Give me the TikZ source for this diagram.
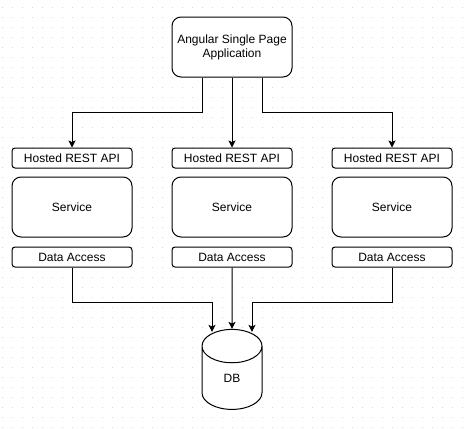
\documentclass[tikz,border=0pt]{standalone}
\usepackage{fontspec}
\setmainfont{Liberation Sans}
\usetikzlibrary{arrows.meta, positioning, shapes.geometric}

\begin{document}
\begin{tikzpicture}[
    x=1pt, y=-1pt,
    font=\fontsize{12}{14}\selectfont,
    appbox/.style={
        rectangle,
        rounded corners=9pt,
        draw=black,
        fill=white,
        minimum width=120pt,
        minimum height=60pt,
        line width=1pt,
        inner sep=0pt,
        align=center
    },
    servicebox/.style={
        appbox
    },
    layerbox/.style={
        rectangle,
        rounded corners=3pt,
        draw=black,
        fill=white,
        minimum width=120pt,
        minimum height=20pt,
        line width=1pt,
        inner sep=0pt,
        align=center
    },
    dbcyl/.style={
        cylinder,
        shape border rotate=90,
        aspect=2,
        draw=black,
        fill=white,
        minimum width=60pt,
        minimum height=80pt,
        line width=1pt,
        inner sep=0pt
    },
    arrow/.style={-{Stealth[length=7pt, width=7pt, inset=1.5pt]}, line width=1pt, draw=black},
    griddot/.style={fill=black!15}
]

% Fondo con puntos
\useasboundingbox (0,0) rectangle (464,429);
\fill[white] (0,0) rectangle (464,429);
\foreach \x in {2,12,...,462}
    \foreach \y in {7,17,...,427}
        \fill[griddot] (\x-0.5,\y-0.5) rectangle ++(1,1);

% Aplicacion (arriba)
\node[appbox] (app) at (232,47) {Angular Single Page\\Application};

% Tres columnas de servicios
\foreach \i/\x in {1/72, 2/232, 3/392} {
    \node[layerbox] (api\i) at (\x,158) {Hosted REST API};
    \node[servicebox] (svc\i) at (\x,207) {Service};
    \node[layerbox] (da\i) at (\x,257) {Data Access};
}

% Base de datos
\node[dbcyl] (db) at (232,378) {DB};

% Flechas desde la aplicacion
\draw[arrow] ([xshift=-30pt]app.south) -- ++(0,35) -| (api1.north);
\draw[arrow] (app.south) -- (api2.north);
\draw[arrow] ([xshift=30pt]app.south) -- ++(0,35) -| (api3.north);

% Flechas hacia la base de datos
\draw[arrow] (da1.south) -- ++(0,35) -| ([xshift=-20pt, yshift=-3pt]db.north);
\draw[arrow] (da2.south) -- (db.north);
\draw[arrow] (da3.south) -- ++(0,35) -| ([xshift=20pt, yshift=-3pt]db.north);

\end{tikzpicture}
\end{document}
